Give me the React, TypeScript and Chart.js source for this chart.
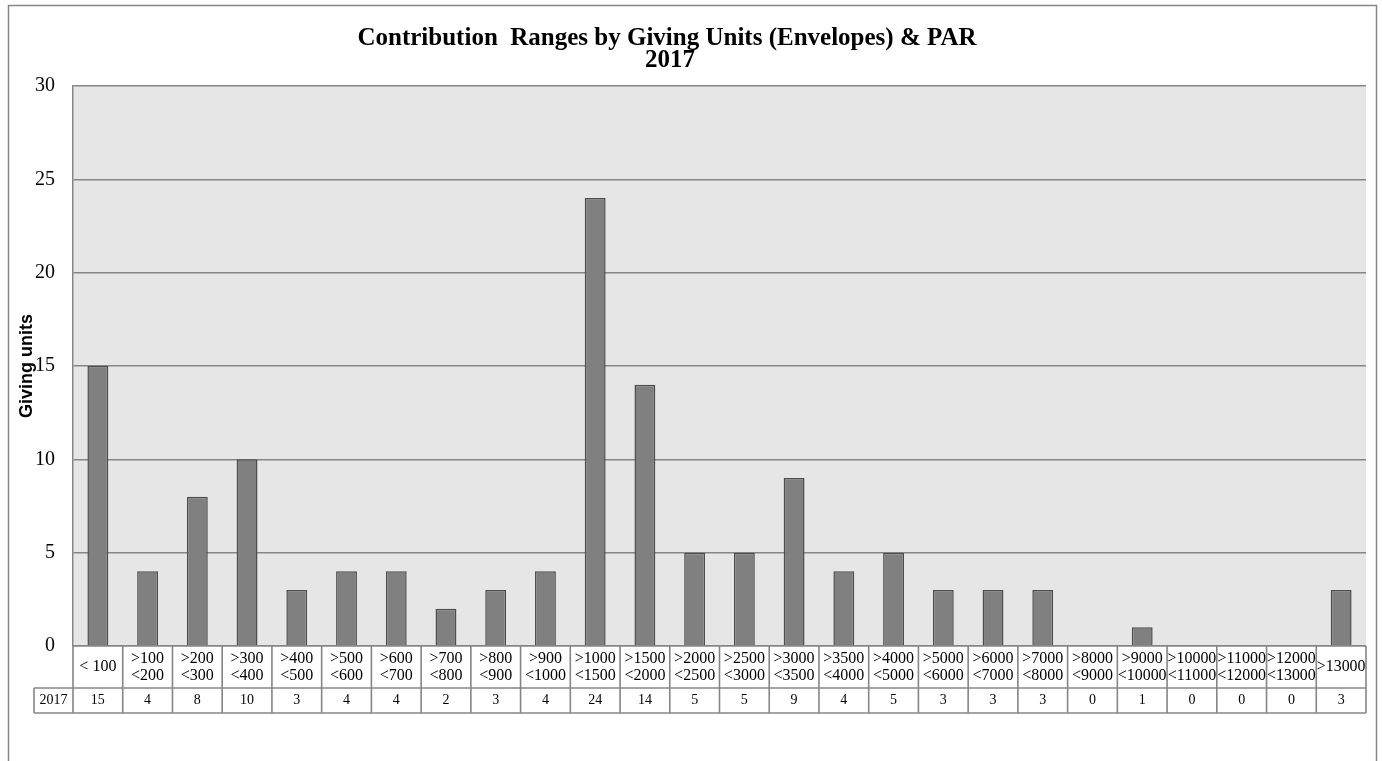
import React, { useEffect, useRef } from 'react';
import { Chart, registerables } from 'chart.js';

Chart.register(...registerables);

// ---- Data ----
const categories: string[][] = [
  ['< 100'],
  ['>100', '<200'],
  ['>200', '<300'],
  ['>300', '<400'],
  ['>400', '<500'],
  ['>500', '<600'],
  ['>600', '<700'],
  ['>700', '<800'],
  ['>800', '<900'],
  ['>900', '<1000'],
  ['>1000', '<1500'],
  ['>1500', '<2000'],
  ['>2000', '<2500'],
  ['>2500', '<3000'],
  ['>3000', '<3500'],
  ['>3500', '<4000'],
  ['>4000', '<5000'],
  ['>5000', '<6000'],
  ['>6000', '<7000'],
  ['>7000', '<8000'],
  ['>8000', '<9000'],
  ['>9000', '<10000'],
  ['>10000', '<11000'],
  ['>11000', '<12000'],
  ['>12000', '<13000'],
  ['>13000'],
];
const seriesLabel = '2017';
const values2017 = [15, 4, 8, 10, 3, 4, 4, 2, 3, 4, 24, 14, 5, 5, 9, 4, 5, 3, 3, 3, 0, 1, 0, 0, 0, 3];
const yTickValues = [0, 5, 10, 15, 20, 25, 30];
const titleLines = ['Contribution  Ranges by Giving Units (Envelopes) & PAR', '2017'];
const yAxisTitle = 'Giving units';

const SERIF = '"Liberation Serif", "Times New Roman", serif';
const SANS = '"Liberation Sans", Arial, sans-serif';
const LINE = '#868686';

const backgroundPlugin = {
  id: 'bgFrame',
  beforeDraw(chart: any) {
    const { ctx, chartArea, width, height } = chart;
    ctx.save();
    ctx.fillStyle = '#ffffff';
    ctx.fillRect(0, 0, width, height);
    // outer frame
    ctx.strokeStyle = LINE;
    ctx.lineWidth = 1.5;
    ctx.beginPath();
    ctx.moveTo(8.5, height + 5);
    ctx.lineTo(8.5, 5.5);
    ctx.lineTo(1376.5, 5.5);
    ctx.lineTo(1376.5, height + 5);
    ctx.stroke();
    // plot area
    ctx.fillStyle = '#e6e6e6';
    ctx.fillRect(chartArea.left, chartArea.top, chartArea.right - chartArea.left, chartArea.bottom - chartArea.top);
    ctx.restore();
  },
};

const titlePlugin = {
  id: 'customTitle',
  afterDraw(chart: any) {
    const { ctx } = chart;
    ctx.save();
    ctx.fillStyle = '#000';
    ctx.font = `bold 25px ${SERIF}`;
    ctx.textAlign = 'center';
    ctx.textBaseline = 'alphabetic';
    ctx.fillText(titleLines[0], 667, 45);
    ctx.fillText(titleLines[1], 670, 67);
    ctx.restore();
  },
};

const tablePlugin = {
  id: 'dataTable',
  afterDraw(chart: any) {
    const { ctx, chartArea } = chart;
    const x = chart.scales.x;
    const n = categories.length;
    const half = (x.getPixelForValue(1) - x.getPixelForValue(0)) / 2;
    const top = chartArea.bottom;
    const row1 = top + 42;
    const row2 = row1 + 25;
    const legendLeft = 34;
    const left = x.getPixelForValue(0) - half;
    const right = x.getPixelForValue(n - 1) + half;

    ctx.save();
    ctx.fillStyle = '#ffffff';
    ctx.fillRect(left, top, right - left, row2 - top);
    ctx.fillRect(legendLeft, row1, left - legendLeft, row2 - row1);

    ctx.strokeStyle = LINE;
    ctx.lineWidth = 1.6;
    ctx.beginPath();
    ctx.moveTo(left, top);
    ctx.lineTo(right, top);
    ctx.moveTo(legendLeft, row1);
    ctx.lineTo(right, row1);
    ctx.moveTo(legendLeft, row2);
    ctx.lineTo(right, row2);
    ctx.moveTo(legendLeft, row1);
    ctx.lineTo(legendLeft, row2);
    for (let i = 0; i <= n; i++) {
      const px = i < n ? x.getPixelForValue(i) - half : x.getPixelForValue(n - 1) + half;
      ctx.moveTo(px, top);
      ctx.lineTo(px, row2);
    }
    ctx.stroke();

    ctx.fillStyle = '#000';
    ctx.textAlign = 'center';
    ctx.textBaseline = 'middle';
    ctx.font = `16px ${SERIF}`;
    const rowMid = (top + row1) / 2;
    for (let i = 0; i < n; i++) {
      const cx = x.getPixelForValue(i);
      const lines = categories[i];
      const lh = 17;
      lines.forEach((t, j) => {
        const y = rowMid + (j - (lines.length - 1) / 2) * lh;
        ctx.fillText(t, cx, y, half * 2 - 1);
      });
    }
    ctx.font = `14px ${SERIF}`;
    const valMid = (row1 + row2) / 2;
    for (let i = 0; i < n; i++) {
      ctx.fillText(String(values2017[i]), x.getPixelForValue(i), valMid);
    }
    ctx.fillText(seriesLabel, (legendLeft + left) / 2, valMid);
    ctx.restore();
  },
};

export default function App() {
  const canvasRef = useRef<HTMLCanvasElement | null>(null);

  useEffect(() => {
    const canvas = canvasRef.current;
    if (!canvas) return;
    const chart = new Chart(canvas, {
      type: 'bar',
      data: {
        labels: categories.map((c) => c.join(' ')),
        datasets: [
          {
            label: seriesLabel,
            data: values2017,
            backgroundColor: '#808080',
            borderColor: '#4d4d4d',
            borderWidth: 1.5,
            barPercentage: 0.42,
            categoryPercentage: 1,
          },
        ],
      },
      options: {
        animation: false,
        responsive: false,
        devicePixelRatio: 1,
        layout: { padding: { top: 86, left: 0, right: 16, bottom: 115 } },
        plugins: {
          legend: { display: false },
          title: { display: false },
          tooltip: { enabled: false },
        },
        scales: {
          x: {
            display: false,
            offset: true,
            grid: { display: false },
          },
          y: {
            min: 0,
            max: 30,
            afterBuildTicks: (scale: any) => {
              scale.ticks = yTickValues.map((v) => ({ value: v }));
            },
            afterFit: (scale: any) => {
              scale.width = 73;
            },
            ticks: {
              color: '#000',
              padding: 18,
              font: { family: SERIF, size: 20 },
            },
            grid: {
              color: LINE,
              lineWidth: 1.5,
              drawTicks: false,
            },
            border: { display: true, color: LINE, width: 1.5 },
            title: {
              display: true,
              text: yAxisTitle,
              color: '#000',
              font: { family: SANS, size: 18, weight: 'bold' },
              padding: { top: 16, bottom: 0 },
            },
          },
        },
      },
      plugins: [backgroundPlugin, tablePlugin, titlePlugin],
    });
    return () => chart.destroy();
  }, []);

  return (
    <div style={{ position: 'fixed', left: 0, top: 0, width: 1382, height: 761, background: '#fff' }}>
      <canvas ref={canvasRef} width={1382} height={761} style={{ display: 'block', width: 1382, height: 761 }} />
    </div>
  );
}
